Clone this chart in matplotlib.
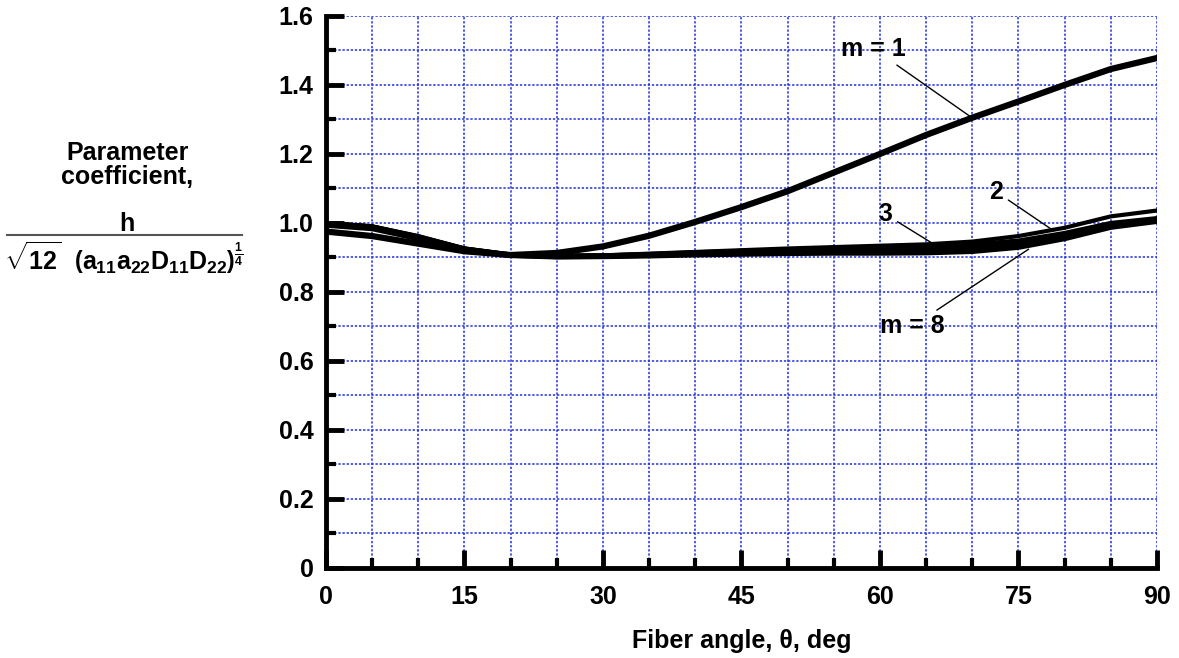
import numpy as np
import matplotlib
matplotlib.use("Agg")
import matplotlib.pyplot as plt
from matplotlib.lines import Line2D
from matplotlib.ticker import MultipleLocator, FuncFormatter

plt.rcParams["font.family"] = ["Liberation Sans", "DejaVu Sans"]
plt.rcParams["font.weight"] = "bold"
plt.rcParams["mathtext.fontset"] = "custom"
plt.rcParams["mathtext.rm"] = "Liberation Sans:bold"
plt.rcParams["mathtext.bf"] = "Liberation Sans:bold"
plt.rcParams["mathtext.it"] = "Liberation Sans:bold"

# fiber angle, deg
angle = [0, 5, 10, 15, 20, 25, 30, 35, 40, 45, 50, 55, 60, 65, 70, 75, 80, 85, 90]

m1 = [0.975, 0.962, 0.940, 0.918, 0.907, 0.913, 0.932, 0.963, 1.003, 1.046, 1.092,
      1.146, 1.200, 1.255, 1.305, 1.352, 1.400, 1.446, 1.478]
m2 = [1.000, 0.990, 0.962, 0.926, 0.908, 0.905, 0.906, 0.911, 0.916, 0.921, 0.926,
      0.930, 0.934, 0.938, 0.946, 0.962, 0.986, 1.019, 1.036]
m3 = [0.999, 0.989, 0.960, 0.925, 0.907, 0.904, 0.905, 0.909, 0.914, 0.918, 0.922,
      0.926, 0.929, 0.933, 0.937, 0.948, 0.970, 0.999, 1.013]
m4 = [0.998, 0.988, 0.958, 0.924, 0.907, 0.903, 0.904, 0.907, 0.911, 0.914, 0.917,
      0.919, 0.920, 0.922, 0.927, 0.940, 0.964, 0.995, 1.010]
m8 = [0.994, 0.984, 0.955, 0.922, 0.906, 0.902, 0.903, 0.905, 0.908, 0.910, 0.912,
      0.913, 0.913, 0.914, 0.918, 0.930, 0.955, 0.988, 1.005]

x_ticks = [0, 15, 30, 45, 60, 75, 90]
y_ticks = [0, 0.2, 0.4, 0.6, 0.8, 1.0, 1.2, 1.4, 1.6]

fig = plt.figure(figsize=(11.79, 6.58), dpi=100)
ax = fig.add_axes([0.2765, 0.1368, 0.7048, 0.8390])

for ys, lw in [(m8, 4.0), (m4, 4.0), (m3, 3.5), (m2, 3.0), (m1, 4.5)]:
    ax.plot(angle, ys, color="black", linewidth=lw, zorder=3)

ax.set_xlim(0, 90)
ax.set_ylim(0, 1.6)
ax.set_xticks(x_ticks)
ax.set_yticks(y_ticks)
ax.xaxis.set_minor_locator(MultipleLocator(5))
ax.yaxis.set_minor_locator(MultipleLocator(0.1))
ax.yaxis.set_major_formatter(FuncFormatter(lambda v, p: "0" if v == 0 else f"{v:.1f}"))

ax.grid(which="both", color="#1f2fe0", linestyle=(0, (1.5, 1.2)), linewidth=1.1, zorder=1)
ax.set_axisbelow(True)

for side in ("top", "right"):
    ax.spines[side].set_visible(False)
for side in ("left", "bottom"):
    ax.spines[side].set_linewidth(3.5)
    ax.spines[side].set_zorder(4)

ax.tick_params(which="major", direction="in", length=13, width=3.5, labelsize=18)
ax.tick_params(which="minor", direction="in", length=7, width=3.0)
ax.tick_params(axis="x", which="major", pad=12)
ax.tick_params(axis="y", which="major", pad=9)
for lbl in ax.get_xticklabels() + ax.get_yticklabels():
    lbl.set_fontweight("bold")

ax.set_xlabel("Fiber angle, θ, deg", fontsize=18, fontweight="bold", labelpad=15)

# y label block
fig.text(0.108, 0.749, "Parameter\ncoefficient,", ha="center", va="center",
         fontsize=18, fontweight="bold", linespacing=1.0)
fig.text(0.108, 0.641, "h", ha="center", va="bottom", fontsize=18, fontweight="bold")
fig.add_artist(Line2D([0.006, 0.205], [0.643, 0.643], color="#555555", linewidth=1.5))
fig.text(0.105, 0.636,
         r"$\sqrt{12}\ \ \left(a_{11}a_{22}D_{11}D_{22}\right)^{\frac{1}{4}}$",
         ha="center", va="top", fontsize=18)

# curve labels
ann = dict(arrowprops=dict(arrowstyle="-", color="black", linewidth=1.0,
                           shrinkA=2, shrinkB=0),
           fontsize=18, fontweight="bold", ha="center", va="center")
ax.annotate("m = 1", xy=(69.8, 1.308), xytext=(59.3, 1.505), **ann)
ax.annotate("3", xy=(65.8, 0.939), xytext=(60.6, 1.025), **ann)
ax.annotate("2", xy=(78.5, 0.983), xytext=(72.6, 1.09), **ann)
ax.annotate("m = 8", xy=(76.1, 0.924), xytext=(63.5, 0.70), **ann)

fig.savefig("out.png", dpi=100)
